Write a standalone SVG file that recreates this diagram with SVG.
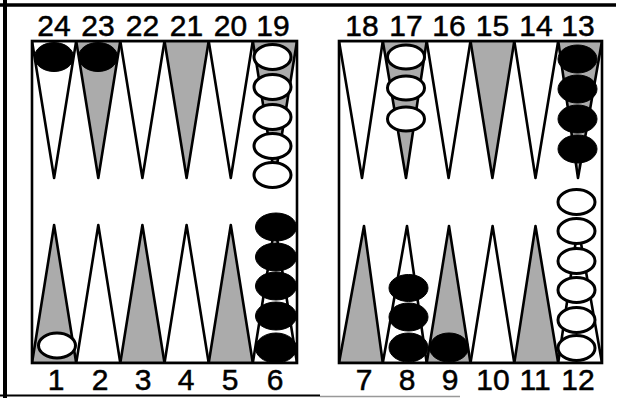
<svg xmlns="http://www.w3.org/2000/svg" width="623" height="398" viewBox="0 0 623 398">
<style>
.pw{fill:#fff;stroke:#000;stroke-width:2.6;stroke-linejoin:round}
.pg{fill:#ababab;stroke:#000;stroke-width:2.6;stroke-linejoin:round}
.cb{fill:#000;stroke:#000;stroke-width:1}
.cw{fill:#fff;stroke:#000;stroke-width:3}
.board{fill:none;stroke:#000;stroke-width:2.6}
.lbl{font-family:"Liberation Sans",Arial,sans-serif;font-size:30px;fill:#000;stroke:#000;stroke-width:0.5;text-anchor:middle}
</style>
<defs>
<clipPath id="clipL"><rect x="32" y="41" width="265" height="322"/></clipPath>
<clipPath id="clipR"><rect x="339" y="41" width="263" height="322"/></clipPath>
</defs>
<rect x="0" y="0" width="623" height="398" fill="#fff"/>
<g id="frame">
<line x1="0" y1="5" x2="616" y2="5" stroke="#000" stroke-width="3.5"/>
<line x1="5" y1="0" x2="5" y2="398" stroke="#000" stroke-width="4"/>
<line x1="0" y1="395.5" x2="320" y2="395.5" stroke="#000" stroke-width="2"/>
<line x1="320" y1="396.5" x2="460" y2="396.5" stroke="#999" stroke-width="1.5"/>
</g>
<g id="board-left">
<rect x="32" y="41" width="265" height="322" fill="#fff"/>
<g clip-path="url(#clipL)">
<g id="p24"><polygon class="pw" points="32,41 76.2,41 54.1,178"/><ellipse class="cb" cx="54" cy="57" rx="19.5" ry="14.5"/></g>
<g id="p23"><polygon class="pg" points="76.2,41 120.3,41 98.3,178"/><ellipse class="cb" cx="98" cy="57" rx="19.5" ry="14.5"/></g>
<g id="p22"><polygon class="pw" points="120.3,41 164.5,41 142.4,178"/></g>
<g id="p21"><polygon class="pg" points="164.5,41 208.7,41 186.6,178"/></g>
<g id="p20"><polygon class="pw" points="208.7,41 252.8,41 230.8,178"/></g>
<g id="p19"><polygon class="pg" points="252.8,41 297,41 274.9,178"/>
<ellipse class="cw" cx="272.5" cy="57" rx="18.5" ry="12.5"/>
<ellipse class="cw" cx="272.5" cy="87" rx="18.5" ry="12.5"/>
<ellipse class="cw" cx="272.5" cy="117" rx="18.5" ry="12.5"/>
<ellipse class="cw" cx="272.5" cy="146" rx="18.5" ry="12.5"/>
<ellipse class="cw" cx="272.5" cy="175" rx="18.5" ry="12.5"/></g>
<g id="p1"><polygon class="pg" points="32,363 76.2,363 54.1,225"/><ellipse class="cw" cx="57" cy="345.5" rx="18.5" ry="12.5"/></g>
<g id="p2"><polygon class="pw" points="76.2,363 120.3,363 98.3,225"/></g>
<g id="p3"><polygon class="pg" points="120.3,363 164.5,363 142.4,225"/></g>
<g id="p4"><polygon class="pw" points="164.5,363 208.7,363 186.6,225"/></g>
<g id="p5"><polygon class="pg" points="208.7,363 252.8,363 230.8,225"/></g>
<g id="p6"><polygon class="pw" points="252.8,363 297,363 274.9,225"/>
<ellipse class="cb" cx="276" cy="227" rx="20.5" ry="14"/>
<ellipse class="cb" cx="276" cy="257" rx="20.5" ry="14"/>
<ellipse class="cb" cx="276" cy="286" rx="20.5" ry="14"/>
<ellipse class="cb" cx="276" cy="316" rx="20.5" ry="14"/>
<ellipse class="cb" cx="276" cy="348" rx="20.5" ry="15"/></g>
</g>
<rect class="board" x="32" y="41" width="265" height="322"/>
</g>
<g id="board-right">
<rect x="339" y="41" width="263" height="322" fill="#fff"/>
<g clip-path="url(#clipR)">
<g id="p18"><polygon class="pw" points="339,41 382.8,41 362,178"/></g>
<g id="p17"><polygon class="pg" points="382.8,41 426.7,41 406,178"/>
<ellipse class="cw" cx="406" cy="57" rx="18.5" ry="12"/>
<ellipse class="cw" cx="406" cy="88" rx="18.5" ry="12"/>
<ellipse class="cw" cx="406" cy="119" rx="18.5" ry="12"/></g>
<g id="p16"><polygon class="pw" points="426.7,41 470.5,41 448.6,178"/></g>
<g id="p15"><polygon class="pg" points="470.5,41 514.3,41 492.4,178"/></g>
<g id="p14"><polygon class="pw" points="514.3,41 558.2,41 535.5,178"/></g>
<g id="p13"><polygon class="pg" points="558.2,41 602,41 578,178"/>
<ellipse class="cb" cx="577.5" cy="59" rx="19.5" ry="14"/>
<ellipse class="cb" cx="577.5" cy="89" rx="19.5" ry="14"/>
<ellipse class="cb" cx="577.5" cy="119" rx="19.5" ry="14"/>
<ellipse class="cb" cx="577.5" cy="149" rx="19.5" ry="14"/></g>
<g id="p7"><polygon class="pg" points="339,363 382.8,363 364,226"/></g>
<g id="p8"><polygon class="pw" points="382.8,363 426.7,363 407,226"/>
<ellipse class="cb" cx="408.5" cy="288" rx="19.5" ry="13.5"/>
<ellipse class="cb" cx="408.5" cy="317" rx="19.5" ry="14"/>
<ellipse class="cb" cx="408.5" cy="347.5" rx="19.5" ry="14.5"/></g>
<g id="p9"><polygon class="pg" points="426.7,363 470.5,363 449,226"/>
<ellipse class="cb" cx="449" cy="347.5" rx="19.5" ry="14.5"/></g>
<g id="p10"><polygon class="pw" points="470.5,363 514.3,363 492.6,226"/></g>
<g id="p11"><polygon class="pg" points="514.3,363 558.2,363 535.5,226"/></g>
<g id="p12"><polygon class="pw" points="558.2,363 602,363 578,226"/>
<ellipse class="cw" cx="576.5" cy="202" rx="18.5" ry="12.5"/>
<ellipse class="cw" cx="576.5" cy="231" rx="18.5" ry="12.5"/>
<ellipse class="cw" cx="576.5" cy="261" rx="18.5" ry="12.5"/>
<ellipse class="cw" cx="576.5" cy="290" rx="18.5" ry="12.5"/>
<ellipse class="cw" cx="576.5" cy="320" rx="18.5" ry="12.5"/>
<ellipse class="cw" cx="576.5" cy="348" rx="18.5" ry="12.5"/></g>
</g>
<rect class="board" x="339" y="41" width="263" height="322"/>
</g>
<g id="labels">
<text class="lbl" x="54" y="36">24</text>
<text class="lbl" x="98" y="36">23</text>
<text class="lbl" x="142.5" y="36">22</text>
<text class="lbl" x="186.5" y="36">21</text>
<text class="lbl" x="230.5" y="36">20</text>
<text class="lbl" x="273" y="36">19</text>
<text class="lbl" x="362" y="36">18</text>
<text class="lbl" x="406" y="36">17</text>
<text class="lbl" x="449" y="36">16</text>
<text class="lbl" x="492.5" y="36">15</text>
<text class="lbl" x="536" y="36">14</text>
<text class="lbl" x="578" y="36">13</text>
<text class="lbl" x="56" y="390">1</text>
<text class="lbl" x="100" y="390">2</text>
<text class="lbl" x="143" y="390">3</text>
<text class="lbl" x="186" y="390">4</text>
<text class="lbl" x="230" y="390">5</text>
<text class="lbl" x="275" y="390">6</text>
<text class="lbl" x="364" y="390">7</text>
<text class="lbl" x="407" y="390">8</text>
<text class="lbl" x="450" y="390">9</text>
<text class="lbl" x="493" y="390">10</text>
<text class="lbl" x="535" y="390">11</text>
<text class="lbl" x="578" y="390">12</text>
</g>
</svg>
